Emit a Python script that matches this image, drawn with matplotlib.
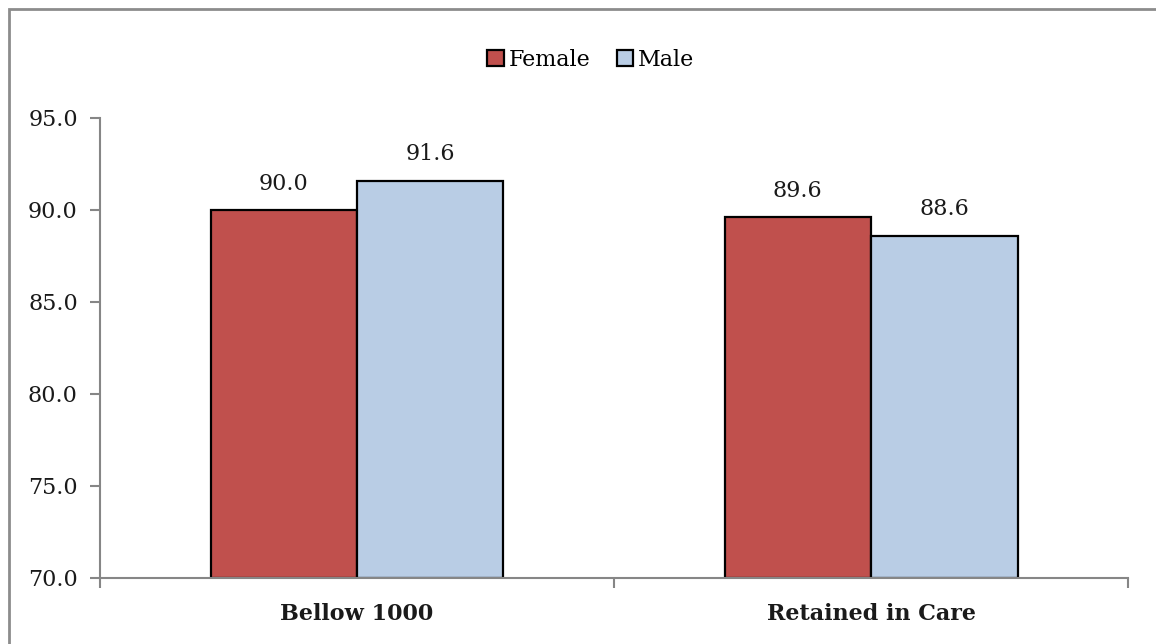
import matplotlib.pyplot as plt
import matplotlib.patches as mpatches
import numpy as np

categories = ["Bellow 1000", "Retained in Care"]
female = [90.0, 89.6]
male = [91.6, 88.6]

red = "#C0504D"
blue = "#B9CDE5"
axis_gray = "#868686"

plt.rcParams["font.family"] = ["DejaVu Serif"]

fig = plt.figure(figsize=(11.56, 6.44), dpi=100)
ax = fig.add_axes([0.0865, 0.1025, 0.8893, 0.7143])

# thin grey frame round the chart area (runs off the right and bottom edges)
fig.patches.append(mpatches.Rectangle((9 / 1156, -0.05), 1.05, 1.0 - 9 / 644 + 0.05,
                                      transform=fig.transFigure, fill=False,
                                      edgecolor="#8C8C8C", linewidth=2))

x = np.arange(len(categories))
w = 0.285
b1 = ax.bar(x - w / 2, np.array(female) - 70, w, bottom=70, color=red,
            edgecolor="black", linewidth=1.6, label="Female")
b2 = ax.bar(x + w / 2, np.array(male) - 70, w, bottom=70, color=blue,
            edgecolor="black", linewidth=1.6, label="Male")

fs = 16
for xs, vals in ((x - w / 2, female), (x + w / 2, male)):
    for xi, v in zip(xs, vals):
        ax.annotate(f"{v:.1f}", (xi, v), xytext=(0, 11), textcoords="offset points",
                    ha="center", va="bottom", fontsize=fs, color="#1a1a1a")

ax.set_xlim(-0.5, 1.5)
ax.set_ylim(70, 95)
ax.set_yticks(np.arange(70, 96, 5))
ax.set_yticklabels([f"{t:.1f}" for t in np.arange(70, 96, 5)], fontsize=fs, color="#1a1a1a")

# category labels between the boundary ticks
ax.set_xticks([-0.5, 0.5, 1.5])
ax.set_xticklabels([])
ax.set_xticks(x, minor=True)
ax.set_xticklabels(categories, minor=True, fontsize=fs, fontweight="bold", color="#1a1a1a")
ax.tick_params(axis="x", which="minor", length=0, pad=18)
ax.tick_params(axis="x", which="major", direction="out", length=7, color=axis_gray, width=1.5)
ax.tick_params(axis="y", direction="out", length=7, color=axis_gray, width=1.5, pad=9)

for side in ("top", "right"):
    ax.spines[side].set_visible(False)
for side in ("left", "bottom"):
    ax.spines[side].set_color(axis_gray)
    ax.spines[side].set_linewidth(1.5)

fig.legend(handles=[b1, b2], loc="center", bbox_to_anchor=(0.511, 1 - 60 / 644), ncol=2,
           frameon=False, fontsize=fs, handlelength=0.75, handleheight=0.75,
           handletextpad=0.2, columnspacing=1.2)

fig.savefig("out.png", dpi=100)
